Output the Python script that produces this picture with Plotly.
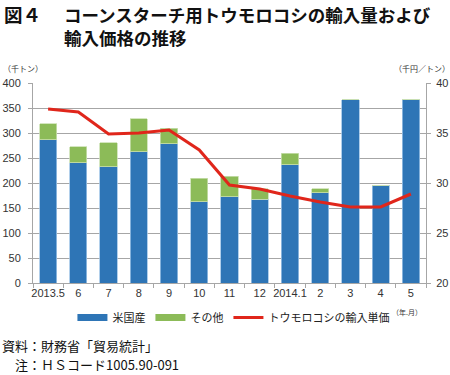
import plotly.graph_objects as go

categories = ["2013.5", "6", "7", "8", "9", "10", "11", "12", "2014.1", "2", "3", "4", "5"]
us_values = [287, 241, 233, 263, 279, 163, 173, 168, 237, 181, 367, 196, 367]
other_values = [32, 32, 48, 66, 31, 47, 41, 21, 23, 8, 0, 0, 0]
price_values = [37.4, 37.1, 34.9, 35.0, 35.3, 33.3, 29.8, 29.4, 28.7, 28.1, 27.6, 27.6, 28.9]

left_ticks = [0, 50, 100, 150, 200, 250, 300, 350, 400]
right_ticks = [20, 25, 30, 35, 40]

JP = "Noto Sans CJK JP"
num_font = dict(family="Liberation Sans, Arial", size=11, color="#333333")
cat_font = dict(family="Liberation Sans, Arial", size=11, color="#333333")
BLUE = "#2E75B6"
GREEN = "#8CBB58"
RED = "#E0261B"

fig = go.Figure()
fig.add_trace(go.Bar(x=categories, y=us_values, name="米国産", showlegend=False,
                     marker=dict(color=BLUE, line=dict(color="#9EC3E6", width=0.8))))
fig.add_trace(go.Bar(x=categories, y=other_values, name="その他", showlegend=False,
                     marker=dict(color=GREEN, line=dict(color="#C9E0B0", width=0.8))))
fig.add_trace(go.Scatter(x=categories, y=price_values, name="トウモロコシの輸入単価",
                         mode="lines", line=dict(color=RED, width=3), yaxis="y2",
                         showlegend=False))
# legend entries
fig.add_trace(go.Scatter(x=[None], y=[None], mode="lines", name="米国産",
                         line=dict(color=BLUE, width=7)))
fig.add_trace(go.Scatter(x=[None], y=[None], mode="lines", name="その他",
                         line=dict(color=GREEN, width=7)))
fig.add_trace(go.Scatter(x=[None], y=[None], mode="lines", name="トウモロコシの輸入単価",
                         line=dict(color=RED, width=3)))

fig.update_layout(
    width=450, height=375,
    margin=dict(l=33, r=24, t=83, b=92, autoexpand=False),
    paper_bgcolor="white", plot_bgcolor="white",
    barmode="stack", bargap=0.43,
    showlegend=True,
    legend=dict(orientation="h", x=0.51, xanchor="center", y=-0.1, yanchor="top",
                font=dict(family=JP, size=11, color="#222222"),
                traceorder="normal", tracegroupgap=0, itemwidth=30),
    xaxis=dict(type="category", showline=True, linecolor="#A6A6A6", linewidth=1,
               ticks="outside", tickson="boundaries", ticklen=4, tickcolor="#A6A6A6",
               tickfont=cat_font, tickangle=0, showgrid=False, automargin=False),
    yaxis=dict(range=[0, 400], tickvals=left_ticks, showline=True, linecolor="#A6A6A6",
               linewidth=1, ticks="outside", ticklen=4, tickcolor="#A6A6A6",
               gridcolor="#A6A6A6", gridwidth=1, tickfont=num_font, ticklabelstandoff=5,
               zeroline=False, automargin=False),
    yaxis2=dict(range=[20, 40], tickvals=right_ticks, overlaying="y", side="right",
                showline=True, linecolor="#A6A6A6", linewidth=1, ticks="outside",
                ticklen=4, tickcolor="#A6A6A6", showgrid=False, zeroline=False,
                tickfont=num_font, ticklabelstandoff=3, automargin=False),
    font=dict(family=JP),
)

title_font = dict(family=JP, size=17.5, color="#111111")
fig.add_annotation(text="<b>図４</b>", xref="paper", yref="paper", x=-33/393, y=1 + 69 / 200,
                   xanchor="left", yanchor="middle", showarrow=False,
                   font=dict(family=JP, size=18.5, color="#111111"), xshift=2)
fig.add_annotation(text="<b>コーンスターチ用トウモロコシの輸入量および</b>",
                   xref="paper", yref="paper", x=29/393, y=1 + 69 / 200,
                   xanchor="left", yanchor="middle", align="left", showarrow=False,
                   font=title_font)
fig.add_annotation(text="<b>輸入価格の推移</b>",
                   xref="paper", yref="paper", x=29/393, y=1 + 45 / 200,
                   xanchor="left", yanchor="middle", align="left", showarrow=False,
                   font=title_font)
fig.add_annotation(text="（千トン）", xref="paper", yref="paper", x=0, y=1.035,
                   xanchor="center", yanchor="bottom", showarrow=False,
                   font=dict(family=JP, size=8, color="#333333"), xshift=-10)
fig.add_annotation(text="（千円／トン）", xref="paper", yref="paper", x=1, y=1.035,
                   xanchor="center", yanchor="bottom", showarrow=False,
                   font=dict(family=JP, size=8, color="#333333"), xshift=-4)
fig.add_annotation(text="（年.月）", xref="paper", yref="paper", x=1, y=-0.11,
                   xanchor="right", yanchor="top", showarrow=False,
                   font=dict(family=JP, size=7, color="#333333"), xshift=-2)
src_font = dict(family=JP, size=13, color="#111111")
fig.add_annotation(text="資料：財務省「貿易統計」",
                   xref="paper", yref="paper", x=-33/393, y=-0.31,
                   xanchor="left", yanchor="middle", align="left", showarrow=False,
                   font=src_font)
fig.add_annotation(text="　注：ＨＳコード1005.90-091",
                   xref="paper", yref="paper", x=-33/393, y=-0.405,
                   xanchor="left", yanchor="middle", align="left", showarrow=False,
                   font=src_font)

fig.write_html("out.html", post_script="document.body.style.margin='0';",
               config={"displayModeBar": False})
